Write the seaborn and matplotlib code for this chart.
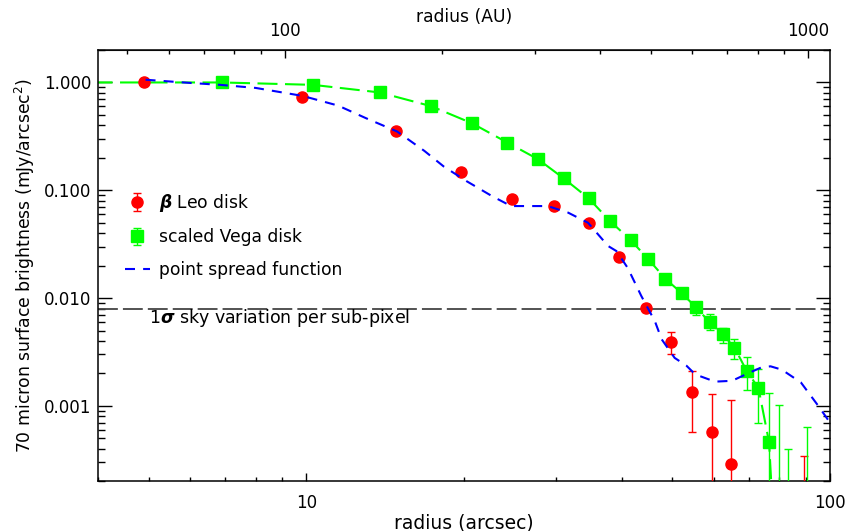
import matplotlib
matplotlib.use("Agg")
import matplotlib.pyplot as plt
import numpy as np
import seaborn as sns
from matplotlib.ticker import FixedLocator, FuncFormatter, NullFormatter

# distance used for the AU axis (AU per arcsec)
DIST_PC = 11.0

# beta Leo disk profile (arcsec, mJy/arcsec^2); 1e-4 = below plot floor
leo_r = [4.9, 9.8, 14.8, 19.7, 24.7, 29.7, 34.7, 39.6, 44.6, 49.6, 54.6, 59.6, 64.6, 89.1]
leo_y = [1.0, 0.726, 0.351, 0.148, 0.083, 0.071, 0.0494, 0.0242, 0.00815, 0.00394,
         0.00134, 0.00057, 0.00029, 1e-4]
leo_lo = [0.99, 0.72, 0.348, 0.146, 0.082, 0.070, 0.0488, 0.0238, 0.0074, 0.00305,
          0.000578, 1e-5, 1e-5, 1e-5]
leo_hi = [1.01, 0.732, 0.354, 0.150, 0.084, 0.072, 0.050, 0.0246, 0.0089, 0.00483,
          0.00213, 0.00128, 0.00113, 0.00034]

# scaled Vega disk profile
vega_r = [3.46, 6.9, 10.3, 13.8, 17.3, 20.7, 24.2, 27.7, 31.0, 34.6, 38.0, 41.6, 45.0,
          48.5, 52.1, 55.4, 58.9, 62.4, 65.7, 69.4, 73.0, 76.5, 79.8, 83.3, 90.4]
vega_y = [1.0, 1.0, 0.95, 0.808, 0.603, 0.419, 0.277, 0.194, 0.129, 0.0843, 0.0519,
          0.0346, 0.0229, 0.0151, 0.0111, 0.00826, 0.00598, 0.0046, 0.00348, 0.00209,
          0.00147, 0.00046, 1e-5, 1e-5, 1e-5]
vega_lo = [1.0, 1.0, 0.95, 0.808, 0.603, 0.419, 0.277, 0.194, 0.129, 0.0843, 0.0519,
           0.0346, 0.0226, 0.0148, 0.0104, 0.0069, 0.00505, 0.00385, 0.00275, 0.00142,
           0.000697, 1e-6, 1e-6, 1e-6, 1e-6]
vega_hi = [1.0, 1.0, 0.95, 0.808, 0.603, 0.419, 0.277, 0.194, 0.129, 0.0843, 0.0519,
           0.0346, 0.0232, 0.0154, 0.0118, 0.00918, 0.00705, 0.00531, 0.0042, 0.00283,
           0.00218, 0.00132, 0.00102, 0.000402, 0.00064]

# point spread function
psf_r = [4.93, 6.0, 6.85, 8.0, 9.84, 11.5, 13.0, 14.9, 16.8, 18.3, 20.2, 22.6, 24.6,
         28.9, 31.6, 34.5, 37.7, 39.1, 41.1, 43.6, 46.3, 47.7, 50.5, 53.2, 55.3, 60.3,
         65.0, 69.8, 74.0, 77.0, 80.9, 88.0, 95.0, 100.0]
psf_y = [1.06, 0.99, 0.95, 0.89, 0.75, 0.61, 0.466, 0.351, 0.232, 0.166, 0.122, 0.0885,
         0.0714, 0.0714, 0.0621, 0.05, 0.0304, 0.0273, 0.019, 0.0105, 0.0061, 0.00415,
         0.00279, 0.00236, 0.00196, 0.00168, 0.00171, 0.00201, 0.00228, 0.00233,
         0.00217, 0.00165, 0.001, 0.0007]

sky_sigma = 0.008

# tick positions
x_major = [10, 100]
x_minor = [4, 5, 6, 7, 8, 9, 20, 30, 40, 50, 60, 70, 80, 90]
y_major = [0.001, 0.01, 0.1, 1.0]
y_minor = [2e-4, 3e-4, 4e-4, 5e-4, 6e-4, 7e-4, 8e-4, 9e-4,
           2e-3, 3e-3, 4e-3, 5e-3, 6e-3, 7e-3, 8e-3, 9e-3,
           0.02, 0.03, 0.04, 0.05, 0.06, 0.07, 0.08, 0.09,
           0.2, 0.3, 0.4, 0.5, 0.6, 0.7, 0.8, 0.9, 2.0]
au_major = [100, 1000]
au_minor = [50, 60, 70, 80, 90, 200, 300, 400, 500, 600, 700, 800, 900]

sns.set_style("ticks")
plt.rcParams["font.family"] = ["DejaVu Sans"]
plt.rcParams["mathtext.fontset"] = "dejavusans"
plt.rcParams["font.size"] = 12
plt.rcParams["text.color"] = "black"
plt.rcParams["axes.labelcolor"] = "black"
plt.rcParams["xtick.color"] = "black"
plt.rcParams["ytick.color"] = "black"

fig = plt.figure(figsize=(8.47, 5.31), dpi=100)
ax = fig.add_axes([98 / 847, 49.7 / 531, 732 / 847, 431.3 / 531])
ax.set_xscale("log")
ax.set_yscale("log")

ax.axhline(sky_sigma, color="#444444", lw=1.3, ls=(0, (11, 2.8)), zorder=1)

leo_err = [np.array(leo_y) - np.array(leo_lo), np.array(leo_hi) - np.array(leo_y)]
vega_err = [np.array(vega_y) - np.array(vega_lo), np.array(vega_hi) - np.array(vega_y)]

sns.lineplot(x=vega_r, y=vega_y, ax=ax, color="#00ff00", lw=1.5, estimator=None,
             sort=False, zorder=2)
vega_line = ax.get_lines()[-1]
vega_line.set_linestyle((0, (9.6, 3.6)))

eb_leo = ax.errorbar(leo_r, leo_y, yerr=leo_err, fmt="o", color="red", ms=8,
                     elinewidth=1, capsize=3, capthick=1, zorder=3)
eb_vega = ax.errorbar(vega_r, vega_y, yerr=vega_err, fmt="s", color="#00ff00", ms=9,
                      elinewidth=1, capsize=3, capthick=1, zorder=3)

sns.lineplot(x=psf_r, y=psf_y, ax=ax, color="blue", lw=1.5, estimator=None,
             sort=False, zorder=4)
psf_line = ax.get_lines()[-1]
psf_line.set_linestyle((0, (4.8, 3.9)))

ax.set_xlim(4, 100)
ax.set_ylim(2e-4, 2)

ax.text(5.0, 0.0066, r"1$\mathbfit{\sigma}$ sky variation per sub-pixel",
        ha="left", va="center", fontsize=12.5, color="black")

ax.legend([eb_leo, eb_vega, psf_line],
          [r"$\mathbfit{\beta}$ Leo disk", "scaled Vega disk", "point spread function"],
          loc="center left", bbox_to_anchor=(0.037, 0.57), frameon=False,
          borderpad=0, borderaxespad=0, handlelength=1.45, handletextpad=0.55,
          labelspacing=0.85, fontsize=12.3, labelcolor="black")

# axes and ticks
for sp in ax.spines.values():
    sp.set_linewidth(1.1)
    sp.set_color("black")
ax.xaxis.set_major_locator(FixedLocator(x_major))
ax.xaxis.set_minor_locator(FixedLocator(x_minor))
ax.yaxis.set_major_locator(FixedLocator(y_major))
ax.yaxis.set_minor_locator(FixedLocator(y_minor))
ax.tick_params(which="both", direction="in", top=False, right=True, colors="black")
ax.tick_params(axis="y", which="major", length=10, width=1, pad=5, labelsize=12)
ax.tick_params(axis="y", which="minor", length=5, width=1)
ax.tick_params(axis="x", which="major", length=6, width=1, pad=9, labelsize=12)
ax.tick_params(axis="x", which="minor", length=3, width=1)
ax.yaxis.set_major_formatter(FuncFormatter(lambda v, p: f"{v:.3f}"))
ax.yaxis.set_minor_formatter(NullFormatter())
ax.xaxis.set_major_formatter(FuncFormatter(lambda v, p: f"{v:g}"))
ax.xaxis.set_minor_formatter(NullFormatter())

ax.set_xlabel("radius (arcsec)", labelpad=1, fontsize=13.5, color="black")
ax.set_ylabel("70 micron surface brightness (mJy/arcsec$^2$)", labelpad=5,
              fontsize=12.4, color="black")

sec = ax.secondary_xaxis("top", functions=(lambda r: r * DIST_PC, lambda a: a / DIST_PC))
sec.xaxis.set_major_locator(FixedLocator(au_major))
sec.xaxis.set_minor_locator(FixedLocator(au_minor))
sec.tick_params(which="both", direction="in", colors="black")
sec.tick_params(which="major", length=6, width=1, pad=7, labelsize=12)
sec.tick_params(which="minor", length=3, width=1)
sec.xaxis.set_major_formatter(FuncFormatter(lambda v, p: f"{v:g}"))
sec.xaxis.set_minor_formatter(NullFormatter())
sec.set_xlabel("radius (AU)", labelpad=0, fontsize=12.3, color="black")

fig.savefig("out.png", dpi=100)
